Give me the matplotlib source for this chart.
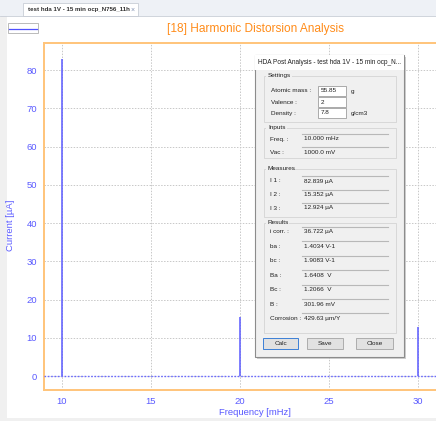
import matplotlib
matplotlib.use("Agg")
import matplotlib.pyplot as plt
from matplotlib.patches import Rectangle

plt.rcParams['font.family'] = ['Liberation Sans', 'DejaVu Sans']

# ---- data ----
harmonic_freqs = [10, 20, 30]              # mHz
harmonic_currents = [82.839, 15.352, 12.924]  # µA
x_ticks = [10, 15, 20, 25, 30]
y_ticks = [0, 10, 20, 30, 40, 50, 60, 70, 80]

settings_labels = ["Atomic mass :", "Valence :", "Density :"]
settings_values = ["55.85", "2", "7.8"]
settings_units = ["g", "", "g/cm3"]
inputs_labels = ["Freq. :", "Vac :"]
inputs_values = ["10.000 mHz", "1000.0 mV"]
measures_labels = ["I 1 :", "I 2 :", "I 3 :"]
measures_values = ["82.839 µA", "15.352 µA", "12.924 µA"]
results_labels = ["i corr. :", "ba :", "bc :", "Ba :", "Bc :", "B :", "Corrosion :"]
results_values = ["36.722 µA", "1.4034 V-1", "1.9083 V-1", "1.6408  V", "1.2066  V", "301.96 mV", "429.63 µm/Y"]
buttons = ["Calc", "Save", "Close"]

W, H = 436, 421
fig = plt.figure(figsize=(W / 100, H / 100), dpi=100)
fig.patch.set_facecolor("white")

def fx(x):
    return x / W

def fy(y):
    return 1 - y / H

def rect(x0, y0, x1, y1, **kw):
    r = Rectangle((fx(x0), fy(y1)), fx(x1) - fx(x0), fy(y0) - fy(y1),
                  transform=fig.transFigure, **kw)
    fig.add_artist(r)
    return r

def txt(x, y, s, size=4.6, color="#202020", ha="left", va="center", **kw):
    fig.text(fx(x), fy(y), s, fontsize=size, color=color, ha=ha, va=va, **kw)

# ---- window chrome ----
rect(0, 0, W, 16, facecolor="#eef1f6", edgecolor="none", zorder=0)
rect(0, 16, 7, H, facecolor="#f0f0f0", edgecolor="none", zorder=0)
rect(0, 418, W, H, facecolor="#f0f0f0", edgecolor="none", zorder=0)
rect(23, 3, 138, 16, facecolor="white", edgecolor="#c8cdd6", linewidth=0.6, zorder=1)
txt(28, 9.5, "test hda 1V - 15 min ocp_N756_11h", size=4.4, color="#303030", weight="bold")
txt(131, 10, "×", size=5, color="#8090b0")
fig.add_artist(plt.Line2D([fx(0), fx(W)], [fy(16), fy(16)], color="#c8cdd6", lw=0.6,
                          transform=fig.transFigure))

# legend box
rect(8, 23, 38, 33, facecolor="white", edgecolor="#b0b0b0", linewidth=0.6, zorder=2)
fig.add_artist(plt.Line2D([fx(9), fx(37)], [fy(29), fy(29)], color="#5050ff", lw=0.9,
                          transform=fig.transFigure))

# title
txt(255, 29, "[18] Harmonic Distorsion Analysis", size=8.6, color="#ff8c1a", ha="center")

# ---- main plot ----
left, top, bottom, right = 44, 43, 390, 436
ax = fig.add_axes([fx(left), fy(bottom), fx(right) - fx(left), fy(top) - fy(bottom)])
ax.set_xlim(9, 31.02)
ax.set_ylim(-3.66, 87.06)
ax.vlines(harmonic_freqs, 0, harmonic_currents, color="#5a5aff", lw=1.1, zorder=3)
ax.axhline(0, color="#6a6aff", lw=1.0, ls=(0, (1.2, 1.2)), zorder=3)
ax.set_xticks(x_ticks)
ax.set_yticks(y_ticks)
ax.grid(True, color="#c8c8c8", ls=(0, (1.5, 1.5)), lw=0.7)
ax.tick_params(length=0, labelsize=6.8, colors="#5a5aff", pad=5)
for s in ["left", "top", "bottom"]:
    ax.spines[s].set_color("#ffc47a")
    ax.spines[s].set_linewidth(1.4)
ax.spines["right"].set_visible(False)
ax.set_xlabel("Frequency [mHz]", fontsize=6.8, color="#5a5aff")
ax.set_ylabel("Current [µA]", fontsize=6.8, color="#5a5aff")
ax.xaxis.set_label_coords(((255 - left) / (right - left)), (bottom - 408) / (bottom - top))
ax.yaxis.set_label_coords((15 - left) / (right - left), (bottom - 225) / (bottom - top))

# ---- dialog ----
dx0, dy0, dx1, dy1 = 255, 55, 404, 357
rect(dx0 + 2, dy0 + 2, dx1 + 2, dy1 + 2, facecolor="#a0a0a0", edgecolor="none", alpha=0.5, zorder=5)
rect(dx0, dy0, dx1, dy1, facecolor="#f0f0f0", edgecolor="#8c8c8c", linewidth=0.8, zorder=6)
rect(dx0, dy0, dx1, 70, facecolor="white", edgecolor="none", zorder=6)
txt(258, 63, "HDA Post Analysis - test hda 1V - 15 min ocp_N...", size=4.7, zorder=7)

def group(y0, y1, label):
    rect(264, y0, 396, y1, facecolor="none", edgecolor="#d4d4d4", linewidth=0.6, zorder=7)
    rect(266, y0 - 3, 266 + 5 * len(label) * 0.55 + 4, y0 + 3, facecolor="#f0f0f0", edgecolor="none", zorder=7)
    txt(268, y0, label, size=4.6, zorder=8)

# Settings
group(76, 122, "Settings")
for i, (lab, val, unit) in enumerate(zip(settings_labels, settings_values, settings_units)):
    y = 91 + i * 11
    txt(271, y, lab, zorder=8)
    rect(318, y - 5, 346, y + 5, facecolor="white", edgecolor="#8c8c8c", linewidth=0.5, zorder=8)
    txt(321, y, val, zorder=9)
    if unit:
        txt(351, y, unit, zorder=8)

# Inputs
group(128, 158, "Inputs")
for i, (lab, val) in enumerate(zip(inputs_labels, inputs_values)):
    y = 139 + i * 13
    txt(270, y, lab, zorder=8)
    fig.add_artist(plt.Line2D([fx(302), fx(388)], [fy(y - 5), fy(y - 5)], color="#b8b8b8",
                              lw=0.8, transform=fig.transFigure, zorder=9))
    txt(304, y, val, zorder=9)

# Measures
group(169, 217, "Measures")
for i, (lab, val) in enumerate(zip(measures_labels, measures_values)):
    y = 181 + i * 13.5
    txt(270, y, lab, zorder=8)
    fig.add_artist(plt.Line2D([fx(302), fx(388)], [fy(y - 5), fy(y - 5)], color="#b8b8b8",
                              lw=0.8, transform=fig.transFigure, zorder=9))
    txt(304, y, val, zorder=9)

# Results
group(223, 333, "Results")
for i, (lab, val) in enumerate(zip(results_labels, results_values)):
    y = 232 + i * 14.4
    txt(270, y, lab, zorder=8)
    fig.add_artist(plt.Line2D([fx(302), fx(388)], [fy(y - 5), fy(y - 5)], color="#b8b8b8",
                              lw=0.8, transform=fig.transFigure, zorder=9))
    txt(304, y, val, zorder=9)

# Buttons
for lab, (bx0, bx1) in zip(buttons, [(263, 298), (307, 343), (356, 393)]):
    edge = "#3c7fd6" if lab == "Calc" else "#adadad"
    rect(bx0, 338, bx1, 349, facecolor="#e1e1e1", edgecolor=edge, linewidth=0.7, zorder=8)
    txt((bx0 + bx1) / 2, 343.5, lab, ha="center", zorder=9)

fig.savefig("out.png", dpi=100)
